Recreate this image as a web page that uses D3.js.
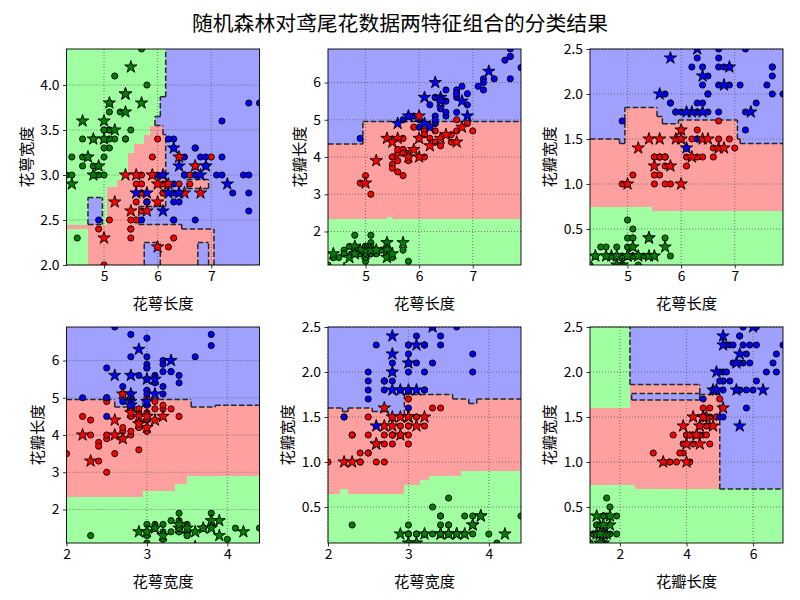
<!DOCTYPE html>
<html><head><meta charset="utf-8">
<script src="https://cdn.jsdelivr.net/npm/d3@7"></script>
<style>body{margin:0;background:#fff} svg text{font-family:"Noto Sans CJK SC","Noto Sans",sans-serif}</style>
</head><body><svg id="c" width="800" height="600"></svg>
<script>
// ---- iris measurements ----
const sepalLength = [5.1,4.9,4.7,4.6,5.0,5.4,4.6,5.0,4.4,4.9,5.4,4.8,4.8,4.3,5.8,5.7,5.4,5.1,5.7,5.1,5.4,5.1,4.6,5.1,4.8,5.0,5.0,5.2,5.2,4.7,4.8,5.4,5.2,5.5,4.9,5.0,5.5,4.9,4.4,5.1,5.0,4.5,4.4,5.0,5.1,4.8,5.1,4.6,5.3,5.0,
7.0,6.4,6.9,5.5,6.5,5.7,6.3,4.9,6.6,5.2,5.0,5.9,6.0,6.1,5.6,6.7,5.6,5.8,6.2,5.6,5.9,6.1,6.3,6.1,6.4,6.6,6.8,6.7,6.0,5.7,5.5,5.5,5.8,6.0,5.4,6.0,6.7,6.3,5.6,5.5,5.5,6.1,5.8,5.0,5.6,5.7,5.7,6.2,5.1,5.7,
6.3,5.8,7.1,6.3,6.5,7.6,4.9,7.3,6.7,7.2,6.5,6.4,6.8,5.7,5.8,6.4,6.5,7.7,7.7,6.0,6.9,5.6,7.7,6.3,6.7,7.2,6.2,6.1,6.4,7.2,7.4,7.9,6.4,6.3,6.1,7.7,6.3,6.4,6.0,6.9,6.7,6.9,5.8,6.8,6.7,6.7,6.3,6.5,6.2,5.9];
const sepalWidth = [3.5,3.0,3.2,3.1,3.6,3.9,3.4,3.4,2.9,3.1,3.7,3.4,3.0,3.0,4.0,4.4,3.9,3.5,3.8,3.8,3.4,3.7,3.6,3.3,3.4,3.0,3.4,3.5,3.4,3.2,3.1,3.4,4.1,4.2,3.1,3.2,3.5,3.1,3.0,3.4,3.5,2.3,3.2,3.5,3.8,3.0,3.8,3.2,3.7,3.3,
3.2,3.2,3.1,2.3,2.8,2.8,3.3,2.4,2.9,2.7,2.0,3.0,2.2,2.9,2.9,3.1,3.0,2.7,2.2,2.5,3.2,2.8,2.5,2.8,2.9,3.0,2.8,3.0,2.9,2.6,2.4,2.4,2.7,2.7,3.0,3.4,3.1,2.3,3.0,2.5,2.6,3.0,2.6,2.3,2.7,3.0,2.9,2.9,2.5,2.8,
3.3,2.7,3.0,2.9,3.0,3.0,2.5,2.9,2.5,3.6,3.2,2.7,3.0,2.5,2.8,3.2,3.0,3.8,2.6,2.2,3.2,2.8,2.8,2.7,3.3,3.2,2.8,3.0,2.8,3.0,2.8,3.8,2.8,2.8,2.6,3.0,3.4,3.1,3.0,3.1,3.1,3.1,2.7,3.2,3.3,3.0,2.5,3.0,3.4,3.0];
const petalLength = [1.4,1.4,1.3,1.5,1.4,1.7,1.4,1.5,1.4,1.5,1.5,1.6,1.4,1.1,1.2,1.5,1.3,1.4,1.7,1.5,1.7,1.5,1.0,1.7,1.9,1.6,1.6,1.5,1.4,1.6,1.6,1.5,1.5,1.4,1.5,1.2,1.3,1.5,1.3,1.5,1.3,1.3,1.3,1.6,1.9,1.4,1.6,1.4,1.5,1.4,
4.7,4.5,4.9,4.0,4.6,4.5,4.7,3.3,4.6,3.9,3.5,4.2,4.0,4.7,3.6,4.4,4.5,4.1,4.5,3.9,4.8,4.0,4.9,4.7,4.3,4.4,4.8,5.0,4.5,3.5,3.8,3.7,3.9,5.1,4.5,4.5,4.7,4.4,4.1,4.0,4.4,4.6,4.0,3.3,4.2,4.2,4.2,4.3,3.0,4.1,
6.0,5.1,5.9,5.6,5.8,6.6,4.5,6.3,5.8,6.1,5.1,5.3,5.5,5.0,5.1,5.3,5.5,6.7,6.9,5.0,5.7,4.9,6.7,4.9,5.7,6.0,4.8,4.9,5.6,5.8,6.1,6.4,5.6,5.1,5.6,6.1,5.6,5.5,4.8,5.4,5.6,5.1,5.1,5.9,5.7,5.2,5.0,5.2,5.4,5.1];
const petalWidth = [0.2,0.2,0.2,0.2,0.2,0.4,0.3,0.2,0.2,0.1,0.2,0.2,0.1,0.1,0.2,0.4,0.4,0.3,0.3,0.3,0.2,0.4,0.2,0.5,0.2,0.2,0.4,0.2,0.2,0.2,0.2,0.4,0.1,0.2,0.1,0.2,0.2,0.1,0.2,0.2,0.3,0.3,0.2,0.6,0.4,0.3,0.2,0.2,0.2,0.2,
1.4,1.5,1.5,1.3,1.5,1.3,1.6,1.0,1.3,1.4,1.0,1.5,1.0,1.4,1.3,1.4,1.5,1.0,1.5,1.1,1.8,1.3,1.5,1.2,1.3,1.4,1.4,1.7,1.5,1.0,1.1,1.0,1.2,1.6,1.5,1.6,1.5,1.3,1.3,1.3,1.2,1.4,1.2,1.0,1.3,1.2,1.3,1.3,1.1,1.3,
2.5,1.9,2.1,1.8,2.2,2.1,1.7,1.8,1.8,2.5,2.0,1.9,2.1,2.0,2.4,2.3,1.8,2.2,2.3,1.5,2.3,2.0,2.0,1.8,2.1,1.8,1.8,1.8,2.1,1.6,1.9,2.0,2.2,1.5,1.4,2.3,2.4,1.8,1.8,2.1,2.4,2.3,1.9,2.3,2.5,2.3,1.9,2.0,2.3,1.8];
const species = ("00000000000000000000000000000000000000000000000000" +
                 "11111111111111111111111111111111111111111111111111" +
                 "22222222222222222222222222222222222222222222222222").split("").map(Number);
// samples drawn as stars (test set)
const testIdx = [2,4,5,7,8,9,10,11,12,16,18,19,22,27,33,
                 51,54,59,61,62,65,66,76,78,83,84,90,92,93,97,
                 100,107,112,114,121,126,127,132,134,137,141];

const featureNames = ["花萼长度","花萼宽度","花瓣长度","花瓣宽度"];
const featureDomains = [[4.3,7.9],[2.0,4.4],[1.1,6.9],[0.1,2.5]];
const pairs = [[0,1],[0,2],[0,3],[1,2],[1,3],[2,3]];
const xTicks = [[5,6,7],[5,6,7],[5,6,7],[2,3,4],[2,3,4],[2,4,6]];
const yTicks = [[2.0,2.5,3.0,3.5,4.0],[2,3,4,5,6],[0.5,1.0,1.5,2.0,2.5],[2,3,4,5,6],[0.5,1.0,1.5,2.0,2.5],[0.5,1.0,1.5,2.0,2.5]];
const yTickFmt = [".1f","d",".1f","d",".1f",".1f"];

// ---- predicted class regions: [class, x0, x1, y0, y1], painted in order over a class-2 background ----
const regions1 = [
 [0,4.3,6.15,3.87,4.4],[0,4.3,6.05,3.65,3.87],[0,4.3,5.95,3.55,3.65],[0,4.3,5.85,3.45,3.55],
 [0,4.3,5.75,3.35,3.45],[0,4.3,5.55,3.25,3.35],[0,4.3,5.45,2.95,3.25],[0,4.3,5.25,2.87,2.95],
 [0,4.3,5.05,2.45,2.87],[0,4.3,4.7,2.0,2.4],
 [1,5.85,6.1,3.45,3.55],[1,5.75,6.15,3.35,3.45],[1,5.55,6.15,3.25,3.35],[1,5.45,6.15,2.95,3.25],
 [1,5.25,6.15,2.87,2.95],[1,5.05,6.15,2.65,2.87],[1,5.05,5.65,2.45,2.65],[1,6.55,6.95,2.85,2.95],
 [1,4.3,4.7,2.4,2.45],[1,4.7,6.45,2.0,2.45],[1,6.45,7.05,2.0,2.4],
 [2,4.7,4.97,2.45,2.75],[2,5.75,6.05,2.0,2.25],[2,6.75,6.95,2.0,2.25]
];
const regions2 = [
 [1,4.3,4.95,1.1,4.35],[1,4.95,7.9,1.1,4.95],
 [0,4.3,7.9,1.1,2.35],[0,5.4,5.5,2.35,2.39]
];
const regions3 = [
 [1,4.3,4.85,0.1,1.5],[1,4.85,4.95,0.1,1.45],[1,4.95,5.55,0.1,1.85],[1,5.55,5.65,0.1,1.75],
 [1,5.65,5.95,0.1,1.67],[1,5.95,7.05,0.1,1.71],[1,7.05,7.1,0.1,1.5],[1,7.1,7.9,0.1,1.45],
 [0,4.3,5.45,0.1,0.75],[0,5.45,7.9,0.1,0.7]
];
const regions4 = [
 [1,2.0,2.6,1.1,4.95],[1,2.6,2.95,1.1,4.75],[1,2.95,3.55,1.1,4.95],[1,3.55,3.85,1.1,4.75],[1,3.85,4.4,1.1,4.8],
 [0,2.0,2.95,1.1,2.35],[0,2.95,3.35,1.1,2.5],[0,3.35,3.5,1.1,2.7],[0,3.5,4.4,1.1,2.9]
];
const regions5 = [
 [1,2.0,2.18,0.1,1.6],[1,2.18,2.25,0.1,1.56],[1,2.25,2.55,0.1,1.6],[1,2.55,2.75,0.1,1.56],
 [1,2.75,2.95,0.1,1.52],[1,2.95,3.55,0.1,1.75],[1,3.55,3.75,0.1,1.7],[1,3.75,3.85,0.1,1.65],[1,3.85,4.4,0.1,1.7],
 [0,2.0,2.15,0.1,0.65],[0,2.15,2.25,0.1,0.7],[0,2.25,2.95,0.1,0.65],[0,2.95,3.15,0.1,0.75],
 [0,3.15,3.25,0.1,0.8],[0,3.25,3.65,0.1,0.85],[0,3.65,4.4,0.1,0.9]
];
const regions6 = [
 [1,1.1,2.3,0.1,1.6],[1,2.3,4.4,0.1,1.86],[1,4.4,5.0,0.1,1.75],
 [0,1.1,2.3,1.6,2.5],[0,1.1,2.45,0.1,0.75],[0,2.45,6.9,0.1,0.7],
 [2,2.35,4.4,1.69,1.76]
];
const regionSets = [regions1,regions2,regions3,regions4,regions5,regions6];
const regionBackground = 2;

const title = "随机森林对鸢尾花数据两特征组合的分类结果";

// ---- drawing ----
const svg = d3.select("#c");
const lightColors = ["#A0FFA0","#FFA0A0","#A0A0FF"];
const darkColors = ["#008000","#FF0000","#0000FF"];
const features = [sepalLength, sepalWidth, petalLength, petalWidth];
const testSet = new Set(testIdx);
const colLeft = [66.5, 328, 590], rowTop = [49, 327], W = 193, H = 216;

svg.append("text").attr("x",400).attr("y",22).attr("text-anchor","middle")
  .attr("dominant-baseline","central").attr("font-size",20.8).text(title);

function starPath(r){
  const ri = r*0.381966, pts=[];
  for(let i=0;i<10;i++){const a=-Math.PI/2+i*Math.PI/5, rr=i%2?ri:r; pts.push([rr*Math.cos(a), rr*Math.sin(a)]);}
  return "M"+pts.map(p=>p[0].toFixed(2)+","+p[1].toFixed(2)).join("L")+"Z";
}
const star = starPath(6.5);

pairs.forEach((pr,k)=>{
  const left = colLeft[k%3], top = rowTop[Math.floor(k/3)];
  const [fx,fy] = pr;
  const x = d3.scaleLinear().domain(featureDomains[fx]).range([left,left+W]);
  const y = d3.scaleLinear().domain(featureDomains[fy]).range([top+H,top]);
  const clipId = "clip"+k;
  svg.append("clipPath").attr("id",clipId).append("rect")
    .attr("x",left).attr("y",top).attr("width",W).attr("height",H);
  const g = svg.append("g");

  // region cells
  const regs = regionSets[k];
  const [dx0,dx1] = featureDomains[fx], [dy0,dy1] = featureDomains[fy];
  const uniq = a => Array.from(new Set(a.map(v=>+v.toFixed(4)))).sort((p,q)=>p-q);
  const xs = uniq([dx0,dx1,...regs.flatMap(r=>[r[1],r[2]])].filter(v=>v>=dx0&&v<=dx1));
  const ys = uniq([dy0,dy1,...regs.flatMap(r=>[r[3],r[4]])].filter(v=>v>=dy0&&v<=dy1));
  const classAt = (cx,cy)=>{let c=regionBackground; for(const r of regs) if(cx>=r[1]&&cx<=r[2]&&cy>=r[3]&&cy<=r[4]) c=r[0]; return c;};
  const grid = [], cells = [];
  for(let i=0;i<xs.length-1;i++){ grid.push([]);
    for(let j=0;j<ys.length-1;j++){
      const c = classAt((xs[i]+xs[i+1])/2,(ys[j]+ys[j+1])/2);
      grid[i].push(c); cells.push({i,j,c});
    }}
  g.append("g").attr("shape-rendering","crispEdges").selectAll("rect").data(cells).join("rect")
    .attr("x",d=>x(xs[d.i])).attr("width",d=>x(xs[d.i+1])-x(xs[d.i])+0.3)
    .attr("y",d=>y(ys[d.j+1])).attr("height",d=>y(ys[d.j])-y(ys[d.j+1])+0.3)
    .attr("fill",d=>lightColors[d.c]).attr("clip-path",`url(#${clipId})`);

  // grid lines
  const gl = g.append("g").attr("stroke","#5a5a5a").attr("stroke-width",0.8).attr("stroke-dasharray","1,2");
  xTicks[k].forEach(t=>gl.append("line").attr("x1",x(t)).attr("x2",x(t)).attr("y1",top).attr("y2",top+H));
  yTicks[k].forEach(t=>gl.append("line").attr("y1",y(t)).attr("y2",y(t)).attr("x1",left).attr("x2",left+W));

  // dashed boundary of the class-2 region
  const isB = (i,j)=>grid[i][j]===2;
  const segs = [];
  for(let i=1;i<xs.length-1;i++){ let s=null;
    for(let j=0;j<ys.length-1;j++){
      const e = isB(i-1,j)!==isB(i,j);
      if(e){ if(s===null) s=j; } else if(s!==null){ segs.push([[xs[i],ys[s]],[xs[i],ys[j]]]); s=null; }
    }
    if(s!==null) segs.push([[xs[i],ys[s]],[xs[i],ys[ys.length-1]]]);
  }
  for(let j=1;j<ys.length-1;j++){ let s=null;
    for(let i=0;i<xs.length-1;i++){
      const e = isB(i,j-1)!==isB(i,j);
      if(e){ if(s===null) s=i; } else if(s!==null){ segs.push([[xs[s],ys[j]],[xs[i],ys[j]]]); s=null; }
    }
    if(s!==null) segs.push([[xs[s],ys[j]],[xs[xs.length-1],ys[j]]]);
  }
  g.append("g").selectAll("line").data(segs).join("line")
    .attr("x1",d=>x(d[0][0])).attr("y1",d=>y(d[0][1])).attr("x2",d=>x(d[1][0])).attr("y2",d=>y(d[1][1]))
    .attr("stroke","#262626").attr("stroke-width",1.5).attr("stroke-dasharray","5.5,2.4");

  // points
  const idx = d3.range(species.length);
  const pts = g.append("g").attr("clip-path",`url(#${clipId})`);
  pts.selectAll("circle").data(idx.filter(i=>!testSet.has(i))).join("circle")
    .attr("cx",i=>x(features[fx][i])).attr("cy",i=>y(features[fy][i])).attr("r",3.1)
    .attr("fill",i=>darkColors[species[i]]).attr("stroke","#000").attr("stroke-width",0.9);
  pts.selectAll("path").data(testIdx).join("path")
    .attr("d",star).attr("transform",i=>`translate(${x(features[fx][i])},${y(features[fy][i])})`)
    .attr("fill",i=>darkColors[species[i]]).attr("stroke","#000").attr("stroke-width",0.9);

  // frame
  g.append("rect").attr("x",left).attr("y",top).attr("width",W).attr("height",H)
    .attr("fill","none").attr("stroke","#000").attr("stroke-width",0.9);

  // axes
  const xa = g.append("g").attr("transform",`translate(0,${top+H})`)
    .call(d3.axisBottom(x).tickValues(xTicks[k]).tickFormat(d3.format("d")).tickSize(3.5).tickPadding(3));
  const ya = g.append("g").attr("transform",`translate(${left},0)`)
    .call(d3.axisLeft(y).tickValues(yTicks[k]).tickFormat(d3.format(yTickFmt[k])).tickSize(3.5).tickPadding(3.5));
  [xa,ya].forEach(a=>{a.select(".domain").remove(); a.selectAll("line").attr("stroke","#000").attr("stroke-width",0.8);
    a.selectAll("text").attr("font-size",13.9).attr("fill","#000").attr("font-family",'"Noto Sans CJK SC",sans-serif');});
  let maxW = 0; ya.selectAll("text").each(function(){maxW=Math.max(maxW,this.getComputedTextLength());});

  svg.append("text").attr("x",left+W/2).attr("y",top+H+37).attr("text-anchor","middle")
    .attr("dominant-baseline","central").attr("font-size",15.3).text(featureNames[fx]);
  const lx = left - 7 - maxW - 15.5;
  svg.append("text").attr("transform",`translate(${lx},${top+H/2}) rotate(-90)`).attr("text-anchor","middle")
    .attr("dominant-baseline","central").attr("font-size",15.3).text(featureNames[fy]);
});
</script></body></html>
